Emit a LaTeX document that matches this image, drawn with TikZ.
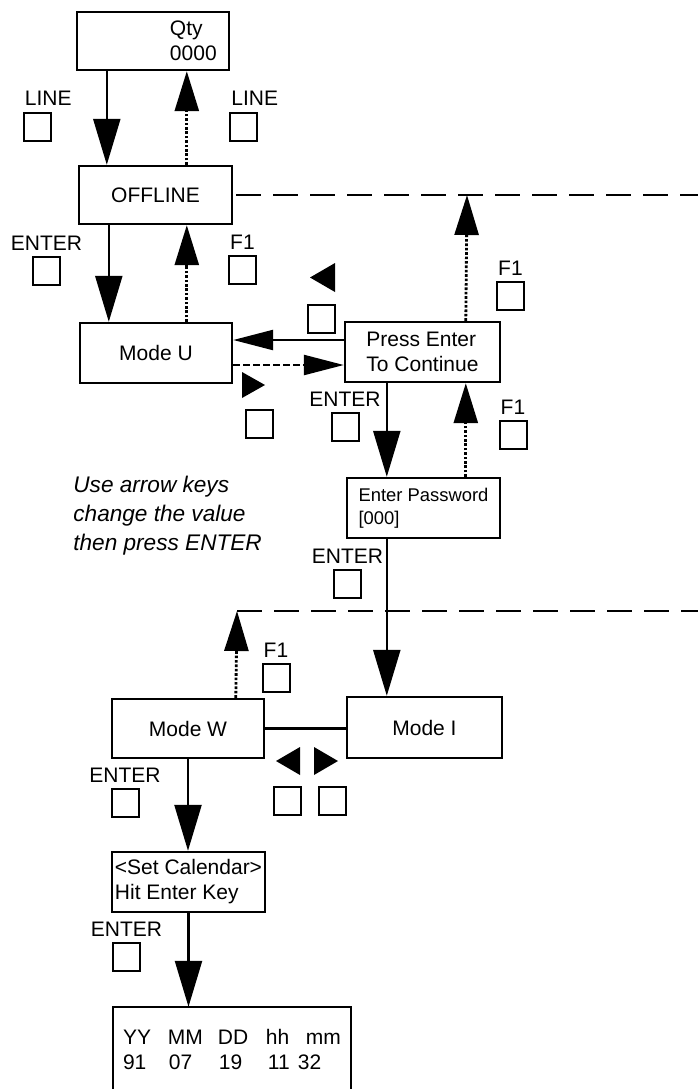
\documentclass[tikz,border=0pt]{standalone}
\usepackage{fontspec}
\setmainfont{Liberation Sans}
\usepackage{tikz}
\usetikzlibrary{arrows.meta}

\newcommand{\dispfont}{\fontsize{10.5}{12.5}\selectfont}
\newcommand{\smalldispfont}{\fontsize{9.2}{11.5}\selectfont}
\newcommand{\hintfont}{\fontsize{11.3}{14.5}\selectfont\itshape}
\newcommand{\lcdcell}[2]{\makebox[#1][l]{#2}}

\begin{document}
\begin{tikzpicture}[
    x=0.5pt, y=-0.5pt,
    screen/.style={
        draw,
        line width=1.2pt,
        align=left,
        inner sep=0pt,
        font=\dispfont
    },
    keybox/.style={draw, line width=1pt, minimum width=13.5pt, minimum height=14pt, inner sep=0pt},
    keylabel/.style={font=\dispfont, inner sep=0pt, label distance=2.5pt},
    linelabel/.style={font=\dispfont, inner sep=0pt, anchor=south west, yshift=3pt, xshift=1pt},
    hint/.style={font=\hintfont, align=left, inner sep=0pt},
    fwd/.style={-{Triangle[length=23pt, width=13.5pt]}, line width=1.2pt},
    back/.style={-{Triangle[length=20pt, width=12pt]}, line width=1.4pt, dash pattern=on 1.3pt off 0.9pt},
    side/.style={-{Triangle[length=20pt, width=10pt]}, line width=1.2pt},
    sidedash/.style={side, dash pattern=on 3.5pt off 1.5pt},
    exit/.style={line width=1.2pt, dash pattern=on 12.5pt off 6pt}
]
\useasboundingbox (0,0) rectangle (698,1089);

% display screens
\node[screen, minimum width=76pt, minimum height=29pt, text width=76pt] (qty) at (153,41) {\hspace*{46.5pt}Qty\\\hspace*{46.5pt}0000};
\node[screen, minimum width=76.5pt, minimum height=29pt] (offline) at (155.5,195) {OFFLINE};
\node[screen, minimum width=76pt, minimum height=30pt] (modeu) at (156,353) {Mode U};
\node[screen, minimum width=77.5pt, minimum height=30pt] (press) at (422.5,352) {Press Enter\\To Continue};
\node[screen, minimum width=76.5pt, minimum height=30pt, font=\smalldispfont] (passwd) at (423.5,508) {Enter Password\\{[000]}};
\node[screen, minimum width=76pt, minimum height=29.5pt] (modew) at (188,728.5) {Mode W};
\node[screen, minimum width=77.5pt, minimum height=30.5pt] (modei) at (424.5,727.5) {Mode I};
\node[screen, minimum width=76.5pt, minimum height=30pt] (calset) at (188.5,882) {<Set Calendar>\\Hit Enter Key};
\node[screen, draw=none, minimum width=118pt, minimum height=41pt] (clock) at (232,1049)
    {\lcdcell{22.5pt}{YY}\lcdcell{25pt}{MM}\lcdcell{24pt}{DD}\lcdcell{20pt}{hh}mm\\
     \lcdcell{23pt}{91}\lcdcell{25pt}{07}\lcdcell{24.5pt}{19}\lcdcell{15pt}{11}32};
\draw[line width=1.2pt] (clock.south west) -- (clock.north west) -- (clock.north east) -- (clock.south east);

\node[hint, anchor=west] (hint) at (73,516) {Use arrow keys\\change the value\\then press ENTER};

% keys
\node[keybox, label={[linelabel]north west:LINE}] (klinedown) at (37,126.5) {};
\node[keybox, label={[linelabel]north west:LINE}] (klineup) at (243.5,126.5) {};
\node[keybox, label={[keylabel]above:ENTER}] (kenterone) at (46.5,271) {};
\node[keybox, label={[keylabel]above:F1}] (kfone) at (242.5,270) {};
\node[keybox] (kleftone) at (321.5,318.5) {};
\node[keybox, label={[keylabel]above:F1}] (kftwo) at (510.5,296) {};
\node[keybox] (krightone) at (259,424) {};
\node[keybox, label={[keylabel]above:ENTER}] (kentertwo) at (345,426.5) {};
\node[keybox, label={[keylabel]above:F1}] (kfthree) at (513,435) {};
\node[keybox, label={[keylabel]above:ENTER}] (kenterthree) at (347.5,583.5) {};
\node[keybox, label={[keylabel]above:F1}] (kffour) at (276,677.5) {};
\node[keybox, label={[keylabel]above:ENTER}] (kenterfour) at (125,802.5) {};
\node[keybox] (klefttwo) at (287.5,801) {};
\node[keybox] (krighttwo) at (332.5,801) {};
\node[keybox, label={[keylabel]above:ENTER}] (kenterfive) at (126.5,956.5) {};

% arrow key marks
\fill (310,277.5) -- (335,263) -- (335,292) -- cycle;
\fill (265,385) -- (242,372) -- (242,398) -- cycle;
\fill (276,761) -- (300,747) -- (300,775) -- cycle;
\fill (338,761) -- (314,747) -- (314,775) -- cycle;

% exits
\coordinate (exitone) at (698,195);
\coordinate (upone) at (467,195);
\coordinate (uptwo) at (237,611);
\coordinate (exittwo) at (698,611);
\draw[exit] ([xshift=1.5pt]offline.east) -- (exitone);
\draw[exit] (uptwo) -- (exittwo);

% transitions
\draw[fwd] ([xshift=15.5pt]qty.south west) -- ([xshift=14.5pt]offline.north west);
\draw[back] ([xshift=54.5pt]offline.north west) -- ([xshift=55.5pt]qty.south west);
\draw[fwd] ([xshift=15.5pt]offline.south west) -- ([xshift=15pt]modeu.north west);
\draw[back] ([xshift=54pt]modeu.north west) -- ([xshift=54.5pt]offline.south west);
\draw[side] ([yshift=6pt]press.west) -- ([yshift=6.5pt]modeu.east);
\draw[sidedash] ([yshift=-6pt]modeu.east) -- ([yshift=-6.5pt]press.west);
\draw[back] ([xshift=61pt]press.north west) -- (upone);
\draw[fwd] ([xshift=21.5pt]press.south west) -- ([xshift=20.5pt]passwd.north west);
\draw[back] ([xshift=60pt]passwd.north west) -- ([xshift=61pt]press.south west);
\draw[fwd] ([xshift=20.5pt]passwd.south west) -- ([xshift=20.5pt]modei.north west);
\draw[back] ([xshift=62.5pt]modew.north west) -- (uptwo);
\draw[line width=1.2pt] (modew.east) -- (modew.east -| modei.west);
\draw[fwd] (modew.south) -- (modew.south |- calset.north);
\draw[fwd] (calset.south) -- (calset.south |- clock.north);
\end{tikzpicture}
\end{document}
